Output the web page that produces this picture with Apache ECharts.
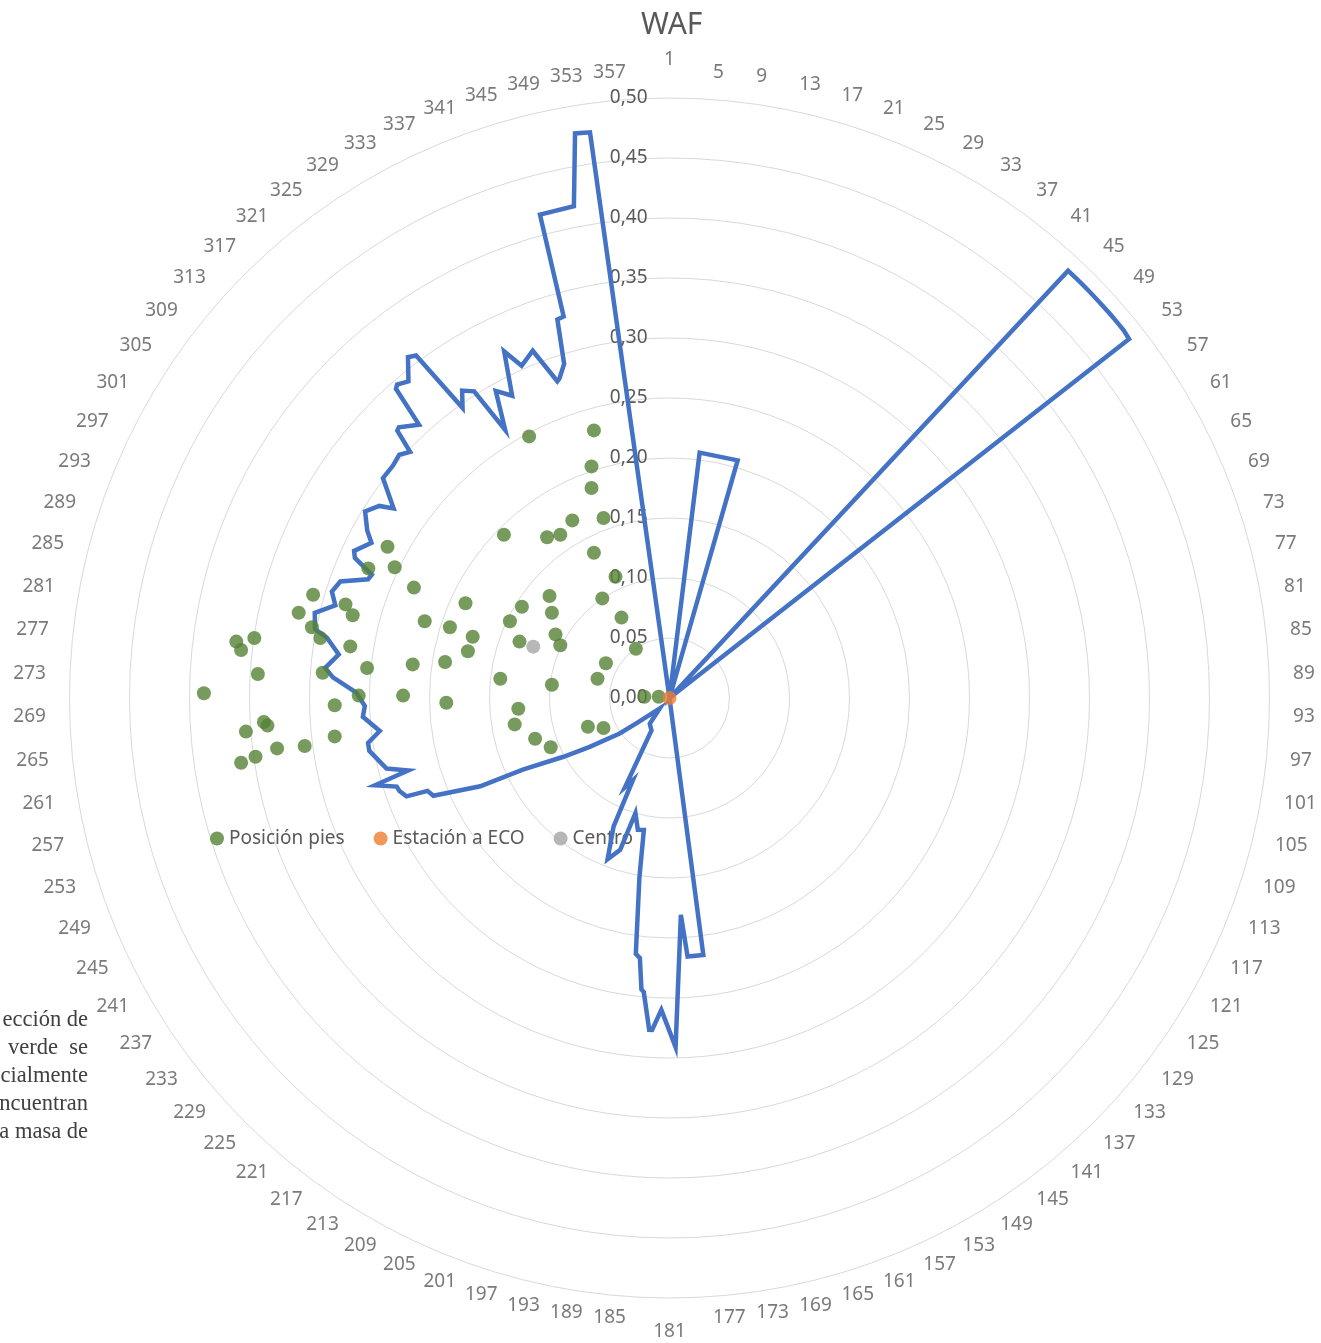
<!DOCTYPE html>
<html>
<head>
<meta charset="utf-8">
<title>WAF</title>
<script src="https://cdn.jsdelivr.net/npm/echarts/dist/echarts.min.js"></script>
<style>
  html, body { margin: 0; padding: 0; background: #ffffff; }
  #chart { width: 1321px; height: 1343px; }
</style>
</head>
<body>
<div id="chart"></div>
<script>
// Direction labels around the rose (one every 4 degrees)
const dirTicks = ['1','5','9','13','17','21','25','29','33','37','41','45','49','53','57','61','65','69','73','77',
  '81','85','89','93','97','101','105','109','113','117','121','125','129','133','137','141','145','149','153','157',
  '161','165','169','173','177','181','185','189','193','197','201','205','209','213','217','221','225','229','233','237',
  '241','245','249','253','257','261','265','269','273','277','281','285','289','293','297','301','305','309','313','317',
  '321','325','329','333','337','341','345','349','353','357'];
const radTicks = ['0,00','0,05','0,10','0,15','0,20','0,25','0,30','0,35','0,40','0,45','0,50'];

// WAF curve: direction (degrees from north, clockwise) and value
const wafAng = [0, 7, 16, 17, 42, 43, 44, 45, 46, 47, 48, 49, 50, 51, 52, 53, 171,
  172.5, 176, 177, 177.5, 179, 181.5, 183, 183.5, 185, 185.5, 186.5, 187.5, 189.5, 191, 193.5, 196.5, 198, 201,
  203.5, 204, 206.5, 209, 217.5, 223, 232.5, 234.5, 238.5, 241, 244, 245, 247.5, 249, 249.5, 251, 252, 253.5,
  254.5, 256, 260, 261.5, 263.5, 266.5, 268.5, 271, 273.5, 275, 277.5, 280, 281, 283.5, 285.5, 287.5, 289.5,
  291.5, 292.5, 294, 295, 297.5, 299, 301.5, 303.5, 304.5, 307.5, 310, 312, 313.5, 314.5, 315, 317.5, 318.5,
  319, 320.5, 322.5, 323.5, 324.5, 326, 327.5, 328.5, 330.5, 332.5, 334.5, 336, 338.5, 340.5, 341, 342.5,
  343.5, 344.5, 345, 349, 350.5, 352, 353, 359];
const wafVal = [0, 0.206, 0.206, 0, 0, 0.487, 0.487, 0.487, 0.487, 0.487, 0.487, 0.487, 0.487, 0.487, 0.486, 0, 0,
  0.216, 0.216, 0.181, 0.181, 0.291, 0.260, 0.277, 0.277, 0.246, 0.244, 0.218, 0.215, 0.152, 0.112, 0.113, 0.100, 0.133, 0.144,
  0.117, 0.075, 0.083, 0.031, 0.027, 0.012, 0.0345, 0.051, 0.078, 0.101, 0.136, 0.174, 0.213, 0.216, 0.234, 0.238, 0.239, 0.256,
  0.226, 0.243, 0.254, 0.254, 0.243, 0.256, 0.254, 0.261, 0.281, 0.288, 0.278, 0.290, 0.301, 0.304, 0.289, 0.295, 0.291,
  0.270, 0.2685, 0.287, 0.290, 0.280, 0.288, 0.2975, 0.290, 0.279, 0.301, 0.301, 0.303, 0.298, 0.318, 0.319, 0.309, 0.344,
  0.346, 0.342, 0.358, 0.355, 0.297, 0.309, 0.303, 0.262, 0.294, 0.284, 0.320, 0.303, 0.311, 0.280, 0.2816, 0.292,
  0.329, 0.330, 0.417, 0.4175, 0.477, 0.476, 0, 0];

// Foot positions (same units as the radial scale, x to the east, y to the north)
const piesX = [-0.117, -0.063, -0.065, -0.065, -0.081, -0.055, -0.138, -0.102, -0.091, -0.063, -0.235, -0.251, -0.229,
  -0.045, -0.213, -0.170, -0.123, -0.100, -0.056, -0.297, -0.270, -0.264, -0.309, -0.298, -0.291, -0.204, -0.183,
  -0.133, -0.098, -0.040, -0.164, -0.095, -0.125, -0.091, -0.266, -0.361, -0.346, -0.357, -0.168, -0.028, -0.187,
  -0.214, -0.252, -0.289, -0.343, -0.053, -0.141, -0.098, -0.060, -0.388, -0.259, -0.222, -0.186, -0.021, -0.009,
  -0.279, -0.126, -0.338, -0.335, -0.129, -0.068, -0.055, -0.353, -0.279, -0.112, -0.327, -0.304, -0.099, -0.345, -0.357];
const piesY = [0.218, 0.223, 0.193, 0.175, 0.148, 0.150, 0.136, 0.134, 0.136, 0.121, 0.126, 0.108, 0.109,
  0.101, 0.092, 0.079, 0.076, 0.085, 0.083, 0.086, 0.078, 0.069, 0.071, 0.059, 0.050, 0.064, 0.059,
  0.064, 0.071, 0.067, 0.051, 0.053, 0.047, 0.044, 0.043, 0.047, 0.050, 0.040, 0.039, 0.041, 0.030,
  0.028, 0.025, 0.021, 0.020, 0.029, 0.016, 0.011, 0.016, 0.004, 0.002, 0.002, -0.004, 0.001, 0.001,
  -0.006, -0.009, -0.020, -0.023, -0.022, -0.024, -0.025, -0.028, -0.032, -0.034, -0.042, -0.040, -0.041, -0.049, -0.054];
const ecoX = [0], ecoY = [0];
const centroX = [-0.1135], centroY = [0.0428];

// Paragraph fragment at the left edge of the page
const sideText = ['ección de', 'verde  se', 'cialmente', 'ncuentran', 'a masa de'];

const FONT = '"Noto Sans", "Open Sans", sans-serif';
const GREY = '#595959';
const CX = 669.5, CY = 698, R = 600;
const MAX_R = 0.5;
const LABEL_R = MAX_R * (R + 24) / R;   // direction labels sit 24px outside the outer ring

// Direction labels: right half left-aligned, left half right-aligned, north/south centred
const dirLabelData = dirTicks.map((t, i) => {
  const a = i * 4;
  const align = (a === 0 || a === 180) ? 'center' : (a < 180 ? 'left' : 'right');
  const vAlign = a === 0 ? 'bottom' : (a === 180 ? 'top' : 'middle');
  const dy = a === 0 ? -5 : (a === 180 ? 0 : -3);
  return { value: [LABEL_R, a], label: { formatter: t, align: align, verticalAlign: vAlign, offset: [0, dy] } };
});

const chart = echarts.init(document.getElementById('chart'), null, { renderer: 'canvas' });

const option = {
  animation: false,
  backgroundColor: '#ffffff',
  textStyle: { fontFamily: FONT },
  title: {
    text: 'WAF',
    left: 636, top: 5,
    textStyle: { fontSize: 30, fontWeight: 'normal', color: GREY, fontFamily: FONT }
  },
  legend: {
    data: ['Posición pies', 'Estación a ECO', 'Centro'],
    left: 205, top: 824,
    icon: 'circle', itemWidth: 14, itemHeight: 14, itemGap: 29,
    textStyle: { fontSize: 19, color: GREY, fontFamily: FONT }
  },
  polar: { center: [CX, CY], radius: R },
  angleAxis: {
    type: 'value', min: 0, max: 360, interval: 4,
    startAngle: 90, clockwise: true,
    axisLine: { show: false }, axisTick: { show: false }, splitLine: { show: false },
    axisLabel: { show: false }
  },
  radiusAxis: {
    type: 'value', min: 0, max: MAX_R, interval: 0.05,
    axisLine: { show: false }, axisTick: { show: false },
    splitLine: { show: true, lineStyle: { color: '#d9d9d9', width: 1 } },
    axisLabel: {
      color: GREY, fontSize: 19, fontFamily: FONT, margin: 22, padding: [4, 0, 0, 0],
      formatter: v => radTicks[Math.round(v / 0.05)]
    }
  },
  grid: { left: CX - R, top: CY - R, width: 2 * R, height: 2 * R, show: false },
  xAxis: { type: 'value', min: -MAX_R, max: MAX_R, show: false },
  yAxis: { type: 'value', min: -MAX_R, max: MAX_R, show: false },
  series: [
    {
      name: 'Direcciones', type: 'scatter', coordinateSystem: 'polar',
      data: dirLabelData, symbolSize: 0, silent: true, clip: false, z: 1,
      label: { show: true, position: 'inside', color: GREY, fontSize: 19, fontFamily: FONT }
    },
    {
      name: 'WAF', type: 'line', coordinateSystem: 'polar',
      data: wafAng.map((a, i) => [wafVal[i], a]),
      symbol: 'none', silent: true, z: 5,
      lineStyle: { color: '#4472C4', width: 4.5, join: 'miter' }
    },
    {
      name: 'Posición pies', type: 'scatter',
      data: piesX.map((x, i) => [x, piesY[i]]),
      symbol: 'circle', symbolSize: 14, z: 6,
      itemStyle: { color: '#548235' }
    },
    {
      name: 'Estación a ECO', type: 'scatter',
      data: ecoX.map((x, i) => [x, ecoY[i]]),
      symbol: 'circle', symbolSize: 14, z: 7,
      itemStyle: { color: '#ED7D31' }
    },
    {
      name: 'Centro', type: 'scatter',
      data: centroX.map((x, i) => [x, centroY[i]]),
      symbol: 'circle', symbolSize: 14, z: 6,
      itemStyle: { color: '#A5A5A5' }
    }
  ],
  graphic: sideText.map((t, i) => ({
    type: 'text', x: 88, y: 1020 + i * 28, z: 1,
    style: {
      text: t, textAlign: 'right', textVerticalAlign: 'middle',
      font: '22.5px "Liberation Serif", "DejaVu Serif", serif', fill: '#404040'
    }
  }))
};

chart.setOption(option);
</script>
</body>
</html>
